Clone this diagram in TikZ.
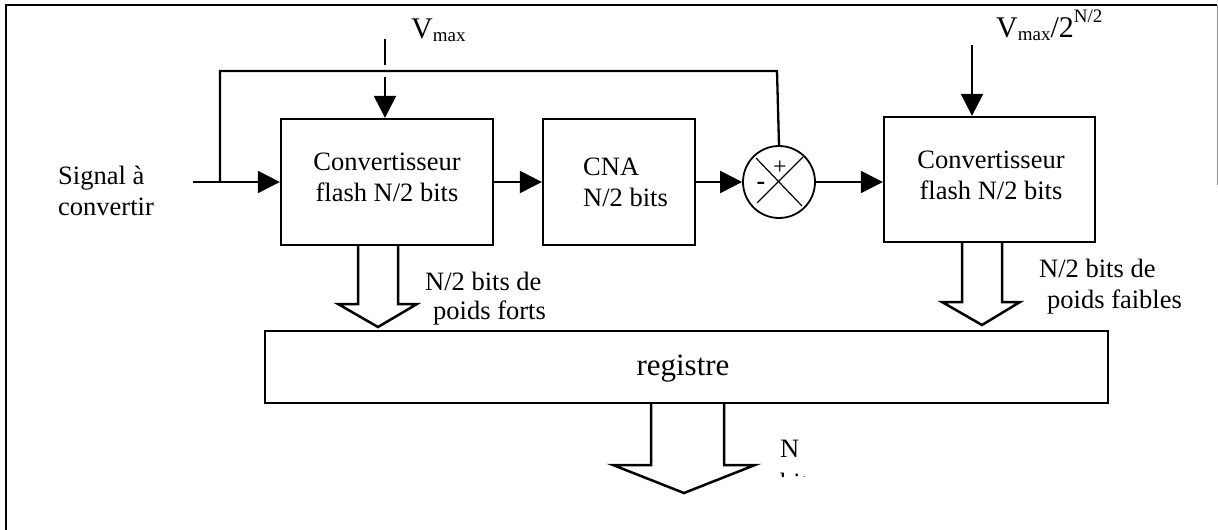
\documentclass[tikz,border=0pt]{standalone}
\usepackage{fontspec}
\setmainfont{Liberation Serif}
\usetikzlibrary{arrows.meta,calc}

\tikzset{
  x=1pt, y=-1pt,
  txt/.style={font=\fontsize{26.5}{31}\selectfont, inner sep=0pt, anchor=base west},
  blk/.style={draw, line width=2.3pt, rectangle, inner sep=0pt},
  sig/.style={line width=2.3pt, -{Triangle[length=22pt,width=22pt]}},
  wire/.style={line width=2.3pt},
  bus/.style={line width=2.5pt, line join=miter},
}

\begin{document}
\begin{tikzpicture}
\useasboundingbox (0,0) rectangle (1218,530);

% outer frame
\draw[line width=1.6pt] (6,530) -- (6,5) -- (1217,5);
\draw[line width=0.8pt, black!45] (1217,5) -- (1217,185);

% blocks
\node[blk, minimum width=212pt, minimum height=126pt] (conv1) at (387,182) {};
\node[blk, minimum width=152pt, minimum height=126pt] (cna) at (619,182) {};
\node[draw, circle, line width=1.8pt, minimum size=72pt, inner sep=0pt] (sum) at (779,182) {};
\node[blk, minimum width=211pt, minimum height=125pt] (conv2) at (989.5,179.5) {};
\node[draw, line width=1.8pt, minimum width=843pt, minimum height=72pt, inner sep=0pt] (reg) at (686.5,367) {};

% block texts
\node[txt, anchor=base] (c1a) at (387,170) {Convertisseur};
\node[txt, anchor=base] (c1b) at (387,201) {flash N/2 bits};
\node[txt] (cnaa) at (583,175) {CNA};
\node[txt] (cnab) at (583,206) {N/2 bits};
\node[txt, anchor=base] (c2a) at (991,168) {Convertisseur};
\node[txt, anchor=base] (c2b) at (991,199) {flash N/2 bits};
\node[font=\fontsize{31}{36}\selectfont, inner sep=0pt, anchor=base] (regt) at (683,375) {registre};

% summing junction
\draw[line width=1.2pt] ($(sum.center)+(-23,-24)$) -- ($(sum.center)+(23,24)$);
\draw[line width=1.2pt] ($(sum.center)+(24,-25)$) -- ($(sum.center)+(-22,21)$);
\node[font=\fontsize{24}{24}\selectfont, inner sep=0pt] (plus) at (780,168) {+};
\node[font=\fontsize{26}{26}\selectfont\bfseries, inner sep=0pt] (minus) at (761,186) {-};

% input signal
\node[txt] (sigA) at (58,184) {Signal à};
\node[txt] (sigB) at (58,215) {convertir};
\coordinate (in) at (193,182);
\coordinate (br) at (220,182);
\coordinate (fbL) at (220,71);
\coordinate (fbR) at (777,71);
\draw[sig] (in) -- (conv1.west |- in);
\draw[wire] (br) -- (fbL) -- (fbR) -- (sum.north);

% reference voltages
\node[inner sep=0pt, anchor=base west] (vmax) at (411,38)
  {\fontsize{30}{30}\selectfont V\raisebox{-3pt}{\fontsize{19}{19}\selectfont max}};
\coordinate (v1top) at (385,39);
\coordinate (v1gapA) at (385,65);
\coordinate (v1gapB) at (385,77);
\draw[wire] (v1top) -- (v1gapA);
\draw[sig] (v1gapB) -- (conv1.north -| v1gapB);

\node[inner sep=0pt, anchor=base west] (vref) at (996,37)
  {\fontsize{30}{30}\selectfont V\raisebox{-3pt}{\fontsize{19}{19}\selectfont max}/2\raisebox{15pt}{\fontsize{19}{19}\selectfont N/2}};
\coordinate (v2top) at (972,45);
\draw[sig] (v2top) -- (conv2.north -| v2top);

% signal path
\draw[sig] (conv1.east) -- (cna.west);
\draw[sig] (cna.east) -- (sum.west);
\draw[sig] (sum.east) -- (conv2.west |- sum.east);

% wide bus arrows
\draw[bus] (358,245) -- (358,304) -- (338,304) -- (378,327) -- (417,304) -- (398,304) -- (398,245);
\draw[bus] (962,242) -- (962,302) -- (942,302) -- (982,325) -- (1020,302) -- (1002,302) -- (1002,242);
\draw[bus] (651,403) -- (651,465) -- (613,465) -- (684,493) -- (755,465) -- (724,465) -- (724,403);

% bus labels
\node[txt] (b1a) at (425,290) {N/2 bits de};
\node[txt] (b1b) at (433,319) {poids forts};
\node[txt] (b2a) at (1039,277) {N/2 bits de};
\node[txt] (b2b) at (1047,308) {poids faibles};
\node[txt] (b3a) at (780,457) {N};
\begin{scope}
  \clip (770,440) rectangle (840,476);
  \node[txt] (b3b) at (780,491) {bits};
\end{scope}
\end{tikzpicture}
\end{document}
